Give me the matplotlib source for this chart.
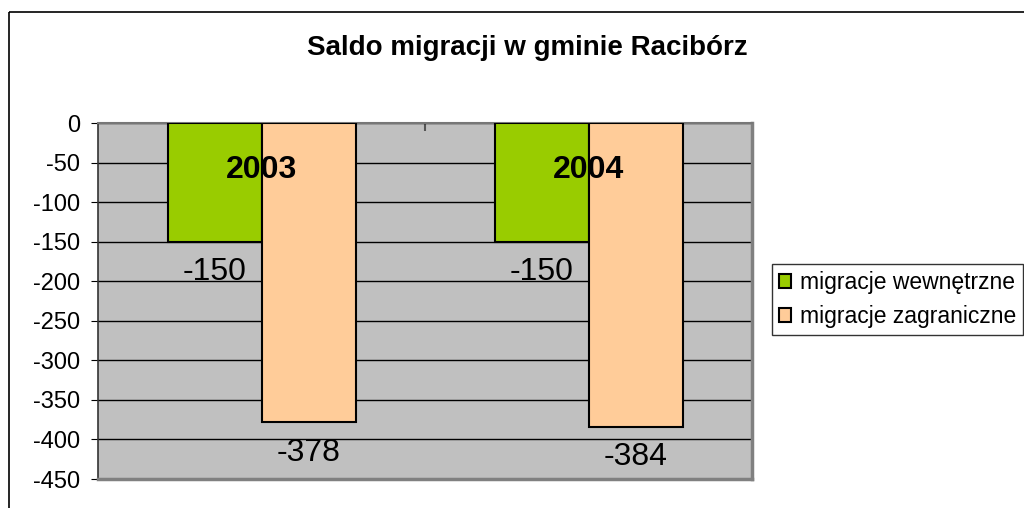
import matplotlib
matplotlib.use("Agg")
import matplotlib.pyplot as plt
from matplotlib.patches import Rectangle, Patch
import numpy as np

years = ["2003", "2004"]
series_names = ["migracje wewnętrzne", "migracje zagraniczne"]
internal = [-150, -150]
foreign = [-378, -384]
yticks = list(range(0, -451, -50))

W, H = 1024, 508
fig = plt.figure(figsize=(W/100, H/100), dpi=100)
fig.patch.set_facecolor("white")
fig.patches.append(Rectangle((8.5/W, 1 - 12/H), 2, -2, transform=fig.transFigure,
                             fill=False, edgecolor="black", linewidth=1.2))

ax = fig.add_axes([98/W, 1 - 479/H, (752-98)/W, (479-123)/H])
ax.set_facecolor("#C0C0C0")
ax.set_ylim(-450, 0)
ax.set_xlim(-0.5, 1.5)
x = np.arange(len(years))
bw = 94/327
b1 = ax.bar(x - bw/2, internal, bw, color="#99CC00", edgecolor="black", linewidth=1.5, zorder=3,
            label=series_names[0])
b2 = ax.bar(x + bw/2, foreign, bw, color="#FFCC99", edgecolor="black", linewidth=1.5, zorder=3,
            label=series_names[1])

ax.set_yticks(yticks)
ax.set_yticklabels([str(v) for v in yticks], fontsize=17, fontfamily="Liberation Sans")
ax.yaxis.grid(True, color="black", linewidth=1, zorder=1)
ax.set_axisbelow(True)
ax.set_xticks([0.5])
ax.set_xticklabels([])
ax.tick_params(axis="x", direction="in", length=6, color="#555555", top=True, bottom=False, width=1.5)
ax.tick_params(axis="y", direction="out", length=5, color="black", pad=8)
for s in ["top"]:
    ax.spines[s].set_color("#777777"); ax.spines[s].set_linewidth(1.5)
for s in ["right", "bottom"]:
    ax.spines[s].set_color("#808080"); ax.spines[s].set_linewidth(2.5)
ax.spines["left"].set_color("#333333"); ax.spines["left"].set_linewidth(1.2)

for i, yr in enumerate(years):
    ax.text(x[i], -60, yr, ha="center", va="center", fontsize=23, fontweight="bold",
            fontfamily="Liberation Sans", zorder=5)
for bars in (b1, b2):
    for rect in bars:
        h = rect.get_height()
        ax.annotate(f"{h:.0f}", (rect.get_x() + rect.get_width()/2, h), xytext=(0, -22),
                    textcoords="offset points", ha="center", va="center", fontsize=23,
                    fontfamily="Liberation Sans", zorder=5)

fig.text(527/W, 1 - 48/H, "Saldo migracji w gminie Racibórz", ha="center", va="center",
         fontsize=20, fontweight="bold", fontfamily="Liberation Sans")

handles = [Patch(facecolor="#99CC00", edgecolor="black", linewidth=1.5),
           Patch(facecolor="#FFCC99", edgecolor="black", linewidth=1.5)]
leg = fig.legend(handles, series_names, loc="upper left", bbox_to_anchor=(772/W, 1 - 264/H),
                 frameon=True, fancybox=False, prop={"family": "Liberation Sans", "size": 16.5},
                 handlelength=0.55, handleheight=0.55, handletextpad=0.35, borderpad=0.3,
                 labelspacing=0.5, borderaxespad=0)
leg.get_frame().set_edgecolor("black")
leg.get_frame().set_linewidth(1)

fig.savefig("out.png", dpi=100)
